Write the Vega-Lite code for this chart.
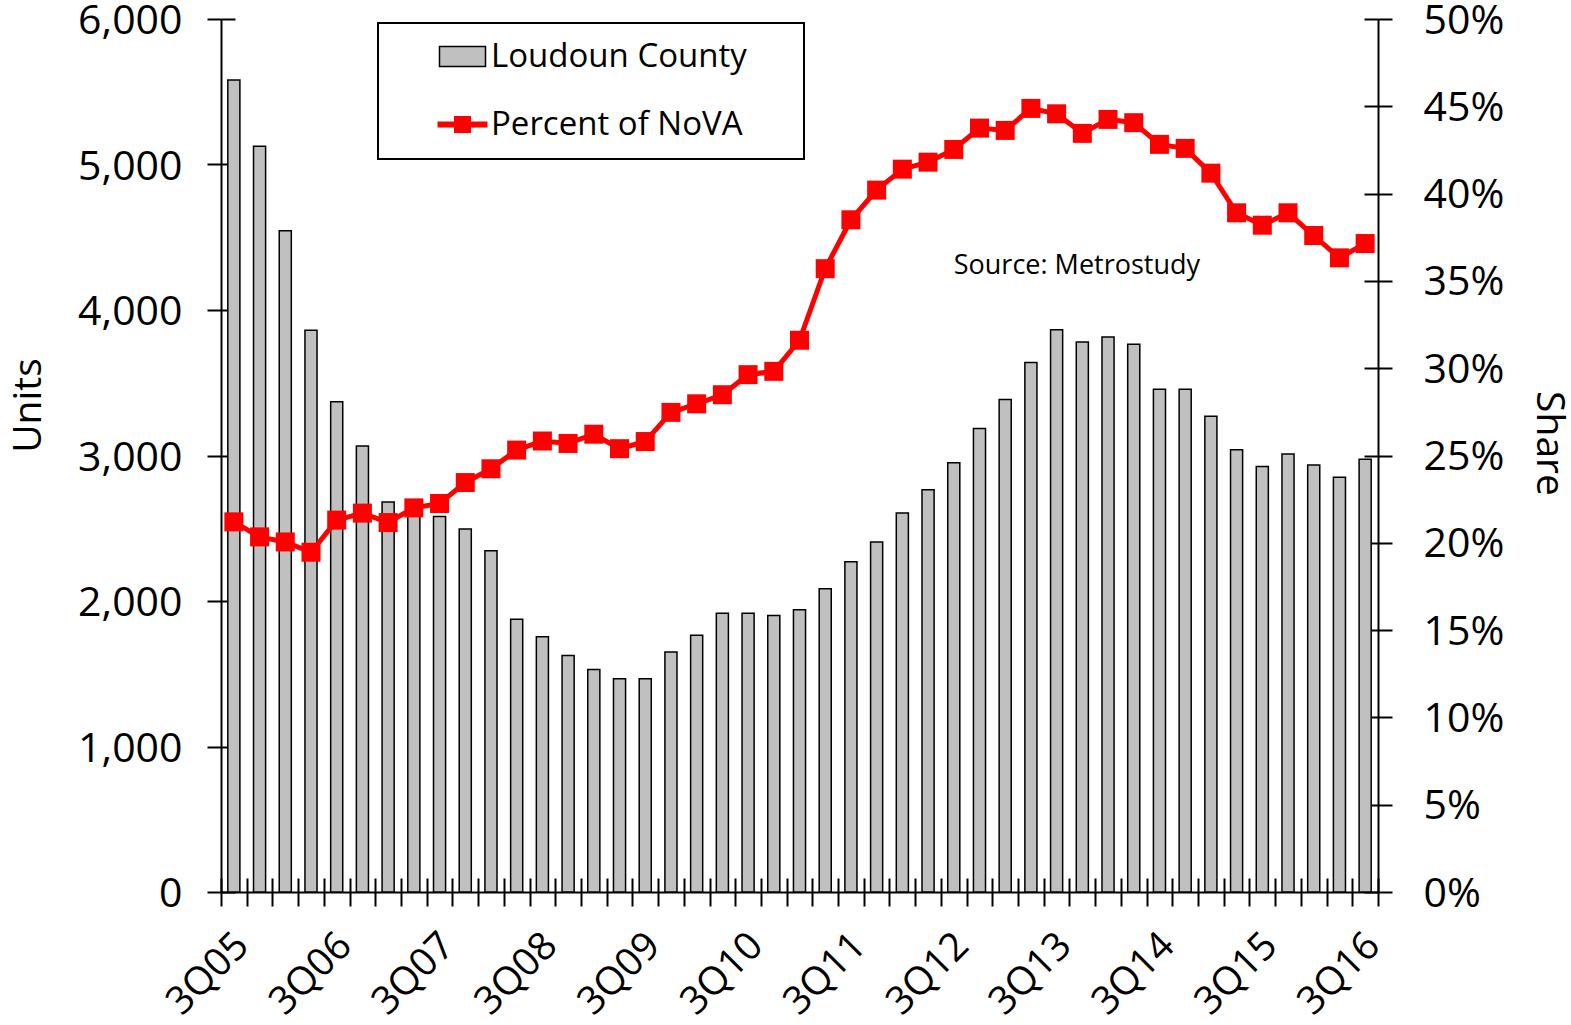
{
  "$schema": "https://vega.github.io/schema/vega-lite/v6.json",
  "width": 1157,
  "height": 873,
  "autosize": {"type": "none"},
  "padding": {"left": 221, "top": 19, "right": 193, "bottom": 133},
  "background": "white",
  "config": {
    "view": {"stroke": null},
    "font": "Open Sans",
    "legend": {"strokeWidth": 2},
    "axis": {
      "zindex": 1,
      "grid": false,
      "domainColor": "black",
      "tickColor": "black",
      "domainWidth": 2,
      "tickWidth": 2,
      "labelColor": "black",
      "titleColor": "black",
      "labelFont": "Open Sans",
      "titleFont": "Open Sans",
      "titleFontWeight": "normal"
    }
  },
  "datasets": {
    "main": [
      {"q": "3Q05", "units": 5580, "share": 0.2120},
      {"q": "4Q05", "units": 5125, "share": 0.2034},
      {"q": "1Q06", "units": 4545, "share": 0.2005},
      {"q": "2Q06", "units": 3860, "share": 0.1946},
      {"q": "3Q06", "units": 3370, "share": 0.2130},
      {"q": "4Q06", "units": 3065, "share": 0.2170},
      {"q": "1Q07", "units": 2680, "share": 0.2116},
      {"q": "2Q07", "units": 2620, "share": 0.2200},
      {"q": "3Q07", "units": 2580, "share": 0.2225},
      {"q": "4Q07", "units": 2495, "share": 0.2345},
      {"q": "1Q08", "units": 2345, "share": 0.2424},
      {"q": "2Q08", "units": 1875, "share": 0.2531},
      {"q": "3Q08", "units": 1755, "share": 0.2583},
      {"q": "4Q08", "units": 1625, "share": 0.2569},
      {"q": "1Q09", "units": 1530, "share": 0.2622},
      {"q": "2Q09", "units": 1465, "share": 0.2539},
      {"q": "3Q09", "units": 1465, "share": 0.2580},
      {"q": "4Q09", "units": 1650, "share": 0.2747},
      {"q": "1Q10", "units": 1765, "share": 0.2796},
      {"q": "2Q10", "units": 1915, "share": 0.2848},
      {"q": "3Q10", "units": 1915, "share": 0.2963},
      {"q": "4Q10", "units": 1900, "share": 0.2982},
      {"q": "1Q11", "units": 1940, "share": 0.3160},
      {"q": "2Q11", "units": 2085, "share": 0.3570},
      {"q": "3Q11", "units": 2270, "share": 0.3850},
      {"q": "4Q11", "units": 2405, "share": 0.4020},
      {"q": "1Q12", "units": 2605, "share": 0.4140},
      {"q": "2Q12", "units": 2765, "share": 0.4180},
      {"q": "3Q12", "units": 2950, "share": 0.4253},
      {"q": "4Q12", "units": 3185, "share": 0.4375},
      {"q": "1Q13", "units": 3385, "share": 0.4362},
      {"q": "2Q13", "units": 3640, "share": 0.4488},
      {"q": "3Q13", "units": 3865, "share": 0.4457},
      {"q": "4Q13", "units": 3780, "share": 0.4345},
      {"q": "1Q14", "units": 3815, "share": 0.4425},
      {"q": "2Q14", "units": 3765, "share": 0.4406},
      {"q": "3Q14", "units": 3455, "share": 0.4282},
      {"q": "4Q14", "units": 3455, "share": 0.4259},
      {"q": "1Q15", "units": 3270, "share": 0.4117},
      {"q": "2Q15", "units": 3040, "share": 0.3890},
      {"q": "3Q15", "units": 2925, "share": 0.3819},
      {"q": "4Q15", "units": 3010, "share": 0.3890},
      {"q": "1Q16", "units": 2935, "share": 0.3760},
      {"q": "2Q16", "units": 2850, "share": 0.3632},
      {"q": "3Q16", "units": 2975, "share": 0.3714}
    ],
    "note": [
      {"q": "3Q12", "units": 4250, "text": "Source: Metrostudy"}
    ]
  },
  "layer": [
    {
      "layer": [
        {
          "data": {"name": "main"},
          "mark": {"type": "bar", "width": {"band": 0.47}, "stroke": "black", "strokeWidth": 1.5},
          "encoding": {
            "x": {
              "field": "q", "type": "nominal", "sort": null,
              "scale": {
                "domain": ["3Q05","4Q05","1Q06","2Q06","3Q06","4Q06","1Q07","2Q07","3Q07","4Q07","1Q08","2Q08","3Q08","4Q08","1Q09","2Q09","3Q09","4Q09","1Q10","2Q10","3Q10","4Q10","1Q11","2Q11","3Q11","4Q11","1Q12","2Q12","3Q12","4Q12","1Q13","2Q13","3Q13","4Q13","1Q14","2Q14","3Q14","4Q14","1Q15","2Q15","3Q15","4Q15","1Q16","2Q16","3Q16"],
                "paddingInner": 0, "paddingOuter": 0
              },
              "axis": {
                "orient": "bottom", "title": null, "domain": true, "ticks": true, "tickSize": 14,
                "tickBand": "extent",
                "labelAngle": -45, "labelAlign": "right", "labelBaseline": "middle",
                "labelFontSize": 39, "labelPadding": 33, "labelOffset": 8,
                "labelOverlap": false, "labelBound": false, "labelFlush": false,
                "labelExpr": "substring(datum.label, 0, 2) == '3Q' ? datum.label : ''"
              }
            },
            "y": {
              "field": "units", "type": "quantitative",
              "scale": {"domain": [0, 6000], "nice": false},
              "axis": {
                "orient": "left", "values": [0, 1000, 2000, 3000, 4000, 5000, 6000], "format": ",.0f",
                "tickSize": 14, "labelFontSize": 41, "labelPadding": 25, "labelOffset": 2.5,
                "title": "Units", "titleFontSize": 39, "titleAngle": -90,
                "titleX": -181, "titleY": 386, "titleAlign": "center", "titleBaseline": "alphabetic"
              }
            },
            "fill": {
              "datum": "Loudoun County", "type": "nominal",
              "scale": {"domain": ["Loudoun County", "Percent of NoVA"], "range": ["#C0C0C0", "#FF0000"]},
              "legend": {
                "orient": "none", "legendX": 157, "legendY": 4,
                "title": " ", "titleOrient": "right", "titleFontSize": 10, "titlePadding": 40,
                "padding": 17, "strokeColor": "black", "fillColor": "white",
                "symbolSize": 2500, "symbolOffset": 51, "labelOffset": 12,
                "labelFontSize": 33, "labelFont": "Open Sans", "labelColor": "black",
                "rowPadding": 34, "labelLimit": 400,
                "symbolType": {"expr": "datum.value == 'Loudoun County' ? 'M-0.92,-0.4H0.92V0.4H-0.92Z' : 'M-1,-0.12H1V0.12H-1ZM-0.34,-0.34H0.34V0.34H-0.34Z'"},
                "symbolStrokeColor": {"expr": "datum.value == 'Loudoun County' ? 'black' : '#FF0000'"},
                "symbolStrokeWidth": {"expr": "datum.value == 'Loudoun County' ? 1.5 : 0"}
              }
            }
          }
        },
        {
          "data": {"name": "main"},
          "mark": {"type": "bar", "opacity": 0, "width": {"band": 0.47}},
          "encoding": {
            "x": {
              "field": "q", "type": "nominal", "sort": null,
              "axis": {"orient": "bottom", "offset": -14, "tickSize": 14, "domain": false, "labels": false, "title": null, "tickBand": "extent"}
            },
            "y": {
              "field": "units", "type": "quantitative",
              "axis": {"orient": "left", "offset": -14, "tickSize": 14, "domain": false, "labels": false, "title": null, "values": [0, 1000, 2000, 3000, 4000, 5000, 6000]}
            }
          }
        },
        {
          "data": {"name": "note"},
          "mark": {"type": "text", "align": "left", "baseline": "alphabetic", "fontSize": 27, "font": "Open Sans", "color": "black"},
          "encoding": {
            "x": {"field": "q", "type": "nominal", "sort": null, "axis": null},
            "y": {"field": "units", "type": "quantitative", "axis": null},
            "text": {"field": "text"}
          }
        }
      ],
      "resolve": {"axis": {"x": "independent", "y": "independent"}}
    },
    {
      "layer": [
        {
          "data": {"name": "main"},
          "mark": {"type": "line", "color": "#FF0000", "strokeWidth": 5, "point": {"shape": "square", "size": 361, "filled": true, "color": "#FF0000", "opacity": 1}},
          "encoding": {
            "x": {"field": "q", "type": "nominal", "sort": null, "axis": null},
            "y": {
              "field": "share", "type": "quantitative",
              "scale": {"domain": [0, 0.5], "nice": false},
              "axis": {
                "orient": "right", "values": [0, 0.05, 0.1, 0.15, 0.2, 0.25, 0.3, 0.35, 0.4, 0.45, 0.5], "format": ".0%",
                "tickSize": 14, "labelFontSize": 41, "labelPadding": 31, "labelOffset": 2,
                "title": "Share", "titleFontSize": 39, "titleAngle": 90,
                "titleX": 158, "titleY": 424, "titleAlign": "center", "titleBaseline": "alphabetic"
              }
            }
          }
        },
        {
          "data": {"name": "main"},
          "mark": {"type": "line", "opacity": 0},
          "encoding": {
            "x": {"field": "q", "type": "nominal", "sort": null, "axis": null},
            "y": {
              "field": "share", "type": "quantitative",
              "axis": {"orient": "right", "offset": -14, "tickSize": 14, "domain": false, "labels": false, "title": null, "values": [0, 0.05, 0.1, 0.15, 0.2, 0.25, 0.3, 0.35, 0.4, 0.45, 0.5]}
            }
          }
        }
      ],
      "resolve": {"axis": {"y": "independent"}}
    }
  ],
  "resolve": {"scale": {"y": "independent"}}
}
